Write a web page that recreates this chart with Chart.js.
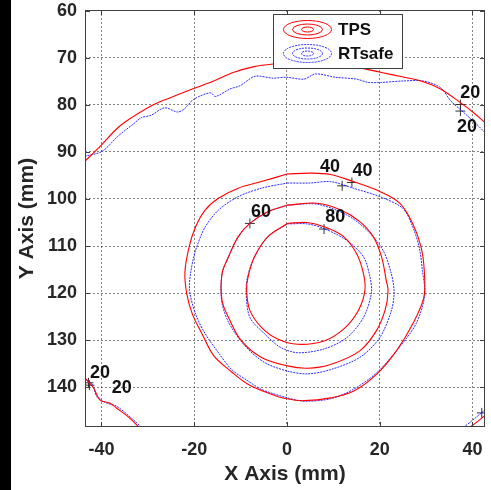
<!DOCTYPE html>
<html>
<head>
<meta charset="utf-8">
<script src="https://cdn.jsdelivr.net/npm/chart.js@4.4.1/dist/chart.umd.min.js"></script>
<style>
  html, body { margin: 0; padding: 0; background: #fff; }
  #c { display: block; }
</style>
</head>
<body>
<canvas id="c" width="491" height="490"></canvas>
<script>
// ---------- data ----------
const xTicks = [-40, -20, 0, 20, 40];
const yTicks = [60, 70, 80, 90, 100, 110, 120, 130, 140];

// level 20 (top arc)
const tpsTopX = [-43.6,-40.3,-36.4,-33.5,-29.3,-25.0,-20.1,-15.8,-11.6,-7.3,-3.0,2.0,8.0,15.1,20.4,24.8,28.9,33.1,37.4,40.2,43.0];
const tpsTopY = [92.0,88.8,84.8,82.7,80.2,78.4,76.5,74.9,73.1,71.9,71.3,71.0,71.2,72.0,73.1,74.0,74.9,76.6,79.5,81.6,84.0];
const rtTopX = [-43.6,-39.9,-36.4,-33.2,-31.4,-29.3,-26.4,-23.6,-22.2,-20.1,-16.5,-15.4,-12.3,-10.1,-6.9,-3.0,-0.2,3.7,6.2,10.4,15.0,17.5,20.4,25.0,29.4,33.1,35.3,38.1,40.9,43.0];
const rtTopY = [90.9,89.9,86.6,84.1,82.7,82.2,80.6,81.5,80.9,78.8,77.4,78.2,76.6,75.9,73.9,74.3,74.1,74.5,73.4,74.1,74.5,75.2,75.2,74.9,74.9,76.3,79.1,81.6,84.1,86.2];

// level 40
const tps40X = [0.0,5.0,9.4,14.3,20.0,24.3,27.1,28.9,29.6,29.5,27.1,23.6,19.3,14.3,9.4,3.7,0.0,-4.0,-8.4,-11.9,-15.8,-18.3,-20.4,-21.6,-22.0,-21.1,-19.7,-17.6,-14.7,-10.5,-5.5,0.0];
const tps40Y = [94.7,94.5,94.8,96.3,98.4,100.9,105.2,110.2,115.2,121.0,126.6,132.3,137.3,140.9,142.3,142.9,142.5,141.3,139.4,136.8,133.3,128.7,124.5,120.2,115.5,110.2,105.9,102.3,99.8,97.7,96.3,94.7];
const rt40X = [0.1,5.0,9.4,14.3,20.0,25.0,27.1,28.5,29.2,29.7,27.8,23.6,19.3,14.3,9.4,3.7,0.1,-5.5,-8.4,-11.9,-14.7,-17.6,-19.7,-21.0,-20.8,-19.7,-17.6,-14.7,-10.5,-5.5,0.1];
const rt40Y = [96.6,96.6,96.3,97.7,99.5,102.0,105.9,110.2,115.2,120.5,126.6,132.3,137.0,140.5,142.5,143.0,142.3,140.5,138.7,136.3,132.8,128.7,124.5,119.5,115.9,110.9,105.9,102.3,99.5,97.7,96.6];

// level 60
const tps60X = [0.1,6.5,11.5,15.7,18.6,20.4,21.4,21.8,21.2,19.3,15.7,9.4,4.4,0.1,-5.5,-9.8,-12.6,-14.0,-14.0,-12.6,-10.5,-8.0,-4.1,0.1];
const tps60Y = [101.3,100.9,102.3,104.8,108.0,112.3,117.3,119.5,123.5,128.0,132.3,135.2,136.0,135.5,133.7,130.2,125.2,121.6,115.9,112.3,108.0,105.2,102.7,101.3];
const rt60X = [0.1,6.5,12.9,17.2,20.7,22.5,23.1,22.5,20.0,15.7,9.4,4.4,0.1,-4.8,-9.1,-12.6,-14.1,-14.0,-12.6,-10.5,-8.0,-4.1,0.1];
const rt60Y = [101.3,101.1,103.4,106.6,110.9,115.9,119.8,123.8,129.5,133.7,136.3,137.2,136.6,134.8,131.2,126.2,121.6,115.9,112.3,108.0,105.2,102.7,101.3];

// level 80
const tps80X = [0.1,4.4,8.0,12.2,15.0,16.5,16.8,15.4,12.2,8.0,2.3,-2.0,-5.5,-8.0,-8.7,-8.4,-7.0,-4.1,0.1];
const tps80Y = [105.2,105.0,105.9,108.0,111.6,115.9,119.5,123.7,127.7,130.2,130.9,129.8,127.3,123.7,119.5,116.6,112.3,108.0,105.2];
const rt80X = [0.1,4.4,8.0,12.9,16.5,17.9,18.2,16.5,12.9,8.0,2.3,-1.5,-4.8,-8.0,-8.8,-8.5,-7.0,-4.1,0.1];
const rt80Y = [105.3,105.3,106.3,108.8,112.3,116.6,120.0,125.2,129.5,131.9,132.7,131.5,128.7,125.2,120.0,116.6,112.3,108.0,105.3];

// level 20 corners
const tpsBLX = [-43.6,-41.7,-40.3,-38.2,-36.7,-33.9,-31.5];
const tpsBLY = [138.0,140.2,142.8,143.4,144.5,146.6,149.0];
const rtBLX = [-43.6,-42.0,-41.0,-38.9,-36.7,-33.2,-30.9];
const rtBLY = [138.4,139.4,142.0,143.4,144.1,146.9,149.0];
const tpsBRX = [38.8,41.0,43.0];
const tpsBRY = [149.0,147.4,145.8];
const rtBRX = [37.5,40.6,43.0];
const rtBRY = [149.0,146.6,144.6];

// contour label markers and texts
const markX = [37.4,37.4,11.9,14.0,-8.0,8.0,-42.8,-42.6,42.0];
const markY = [79.9,81.3,97.2,96.5,105.2,106.4,139.1,139.6,145.5];
const labelText = ['20','20','40','40','60','80','20','20'];
const labelX = [39.5,38.8,9.3,16.3,-5.6,10.4,-40.3,-35.6];
const labelY = [77.4,84.8,93.1,94.1,102.7,103.9,137.0,140.2];

const seriesNames = ['TPS', 'RTsafe'];

// ---------- build ----------
const FONT = '"Liberation Sans", Arial, Helvetica, sans-serif';
const RED = 'rgb(255,0,0)';
const BLUE = 'rgba(20,20,255,0.9)';
const pts = (xs, ys) => xs.map((x, i) => ({ x: x, y: ys[i] }));

function tpsLine(xs, ys) {
  return { data: pts(xs, ys), showLine: true, borderColor: RED, borderWidth: 1.1,
           pointRadius: 0, tension: 0.35, fill: false };
}
function rtLine(xs, ys) {
  return { data: pts(xs, ys), showLine: true, borderColor: BLUE, borderWidth: 1,
           borderDash: [2, 1], pointRadius: 0, tension: 0.3, fill: false };
}

const datasets = [
  tpsLine(tpsTopX, tpsTopY), tpsLine(tps40X, tps40Y), tpsLine(tps60X, tps60Y), tpsLine(tps80X, tps80Y),
  tpsLine(tpsBLX, tpsBLY), tpsLine(tpsBRX, tpsBRY),
  rtLine(rtTopX, rtTopY), rtLine(rt40X, rt40Y), rtLine(rt60X, rt60Y), rtLine(rt80X, rt80Y),
  rtLine(rtBLX, rtBLY), rtLine(rtBRX, rtBRY),
  { data: pts(markX, markY), showLine: false, pointStyle: 'cross', pointRadius: 5,
    borderColor: '#333', borderWidth: 1, backgroundColor: '#333' }
];

const decor = {
  id: 'decor',
  afterDraw(chart) {
    const ctx = chart.ctx;
    const { left, right, top, bottom } = chart.chartArea;
    const xs = chart.scales.x, ys = chart.scales.y;
    ctx.save();
    // frame
    ctx.strokeStyle = '#404040';
    ctx.lineWidth = 1;
    ctx.setLineDash([]);
    ctx.strokeRect(Math.round(left) + 0.5, Math.round(top) + 0.5,
                   Math.round(right - left) - 1, Math.round(bottom - top) - 1);
    // inward ticks
    ctx.beginPath();
    xTicks.forEach(v => {
      const p = Math.round(xs.getPixelForValue(v)) + 0.5;
      ctx.moveTo(p, bottom); ctx.lineTo(p, bottom - 5);
      ctx.moveTo(p, top); ctx.lineTo(p, top + 5);
    });
    yTicks.forEach(v => {
      const p = Math.round(ys.getPixelForValue(v)) + 0.5;
      ctx.moveTo(left, p); ctx.lineTo(left + 5, p);
      ctx.moveTo(right, p); ctx.lineTo(right - 5, p);
    });
    ctx.stroke();

    // contour labels
    ctx.fillStyle = '#111';
    ctx.font = 'bold 18px ' + FONT;
    ctx.textAlign = 'center';
    ctx.textBaseline = 'middle';
    labelText.forEach((t, i) => {
      ctx.fillText(t, xs.getPixelForValue(labelX[i]), ys.getPixelForValue(labelY[i]));
    });

    // legend
    const lx = 273, ly = 14, lw = 129, lh = 54;
    ctx.fillStyle = '#fff';
    ctx.fillRect(lx, ly, lw, lh);
    ctx.strokeStyle = '#404040';
    ctx.strokeRect(lx + 0.5, ly + 0.5, lw, lh);
    const icon = (cy, color, dash) => {
      ctx.strokeStyle = color;
      ctx.lineWidth = 1;
      ctx.setLineDash(dash);
      [[24, 9], [15, 5.5], [6, 2.5]].forEach(([rx, ry]) => {
        ctx.beginPath();
        ctx.ellipse(307.5, cy, rx, ry, 0, 0, Math.PI * 2);
        ctx.stroke();
      });
      ctx.setLineDash([]);
    };
    icon(29.5, RED, []);
    icon(53.5, BLUE, [2, 1]);
    ctx.fillStyle = '#111';
    ctx.font = 'bold 17px ' + FONT;
    ctx.textAlign = 'left';
    ctx.textBaseline = 'middle';
    ctx.fillText(seriesNames[0], 338, 30.5);
    ctx.fillText(seriesNames[1], 338, 54.5);

    // black strip at the left border of the picture
    ctx.fillStyle = '#000';
    ctx.fillRect(0, 0, 11, 490);
    ctx.restore();
  }
};

new Chart(document.getElementById('c'), {
  type: 'scatter',
  data: { datasets },
  options: {
    responsive: false,
    animation: false,
    layout: { padding: { top: 10, right: 1, left: 0, bottom: 0 } },
    plugins: { legend: { display: false }, tooltip: { enabled: false } },
    scales: {
      x: {
        type: 'linear', min: -43.55, max: 42.7,
        afterBuildTicks: s => { s.ticks = xTicks.map(v => ({ value: v })); },
        afterFit: s => { s.height = 63; s.paddingLeft = 0; s.paddingRight = 0; },
        ticks: { color: '#262626', padding: 12, maxRotation: 0, autoSkip: false,
                 font: { family: FONT, size: 18, weight: 'bold' } },
        grid: { color: 'rgba(30,30,30,0.55)', lineWidth: 1, drawTicks: false },
        border: { display: false, dash: [2, 2] },
        title: { display: true, text: 'X Axis (mm)', color: '#262626',
                 font: { family: FONT, size: 21, weight: 'bold' }, padding: { top: 0, bottom: 3 } }
      },
      y: {
        type: 'linear', reverse: true, min: 59.8, max: 148.5,
        afterBuildTicks: s => { s.ticks = yTicks.map(v => ({ value: v })); },
        afterFit: s => { s.width = 85; s.paddingTop = 0; s.paddingBottom = 0; },
        ticks: { color: '#262626', padding: 8, autoSkip: false,
                 font: { family: FONT, size: 18, weight: 'bold' } },
        grid: { color: 'rgba(30,30,30,0.55)', lineWidth: 1, drawTicks: false },
        border: { display: false, dash: [2, 2] },
        title: { display: true, text: 'Y Axis (mm)', color: '#262626',
                 font: { family: FONT, size: 21, weight: 'bold' }, padding: { top: 15, bottom: 0 } }
      }
    }
  },
  plugins: [decor]
});
</script>
</body>
</html>
